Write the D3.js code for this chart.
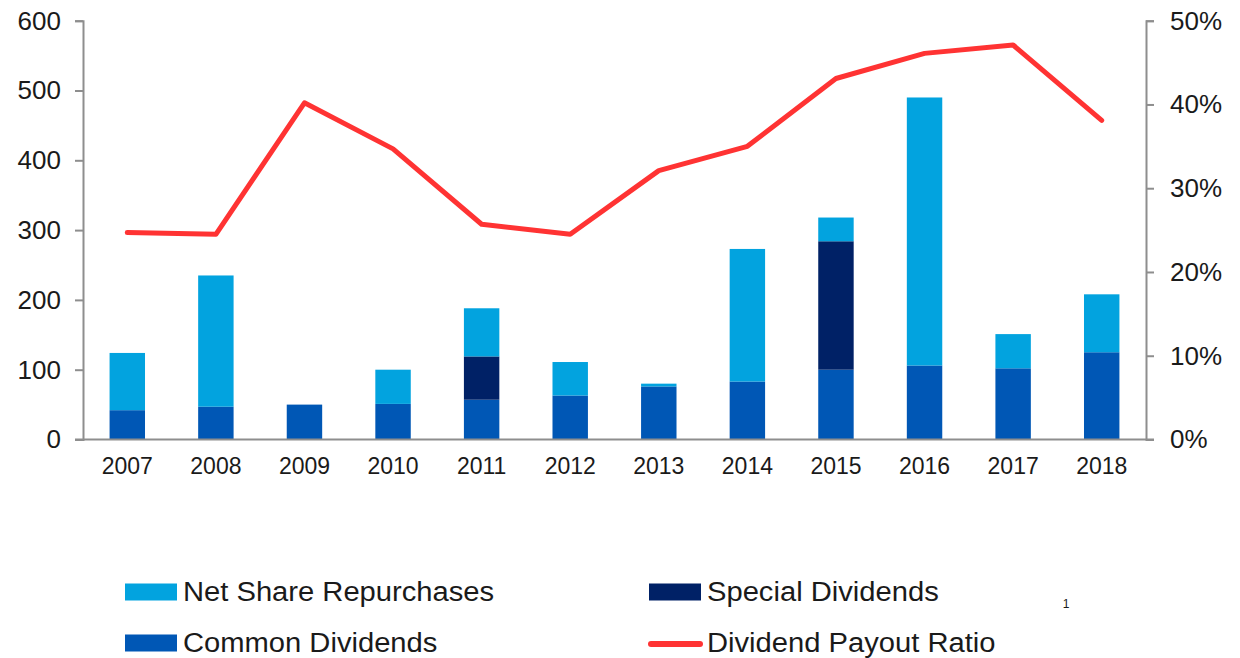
<!DOCTYPE html>
<html>
<head>
<meta charset="utf-8">
<script src="https://cdn.jsdelivr.net/npm/d3@7"></script>
<style>
  html, body { margin: 0; padding: 0; background: #ffffff; }
  svg { display: block; font-family: "Liberation Sans", Arial, sans-serif; }
</style>
</head>
<body>
<svg id="chart" width="1240" height="658"></svg>
<script>
// Capital return by year (left axis) and dividend payout ratio (right axis)
const years = ["2007","2008","2009","2010","2011","2012","2013","2014","2015","2016","2017","2018"];
const commonDividends   = [42, 47, 50, 51, 57, 63, 76, 83, 100, 106, 102, 125];
const specialDividends  = [0, 0, 0, 0, 62, 0, 0, 0, 184, 0, 0, 0];
const netRepurchases    = [82, 188, 0, 49, 69, 48, 4, 190, 34, 384, 49, 83];
const payoutRatio       = [24.7, 24.5, 40.2, 34.7, 25.7, 24.5, 32.1, 35.0, 43.1, 46.1, 47.1, 38.1];
const leftTicks  = [0, 100, 200, 300, 400, 500, 600];
const rightTicks = [0, 10, 20, 30, 40, 50];

const seriesKeys   = ["common", "special", "repurchases"];
const seriesNames  = { common: "Common Dividends", special: "Special Dividends", repurchases: "Net Share Repurchases" };
const seriesColors = { common: "#0057B5", special: "#002166", repurchases: "#02A3DF" };
const lineColor = "#FF3333";
const axisColor = "#8E8E8E";
const textColor = "#1A1A1A";

const rows = years.map((y, i) => ({
  year: y,
  common: commonDividends[i],
  special: specialDividends[i],
  repurchases: netRepurchases[i]
}));

const svg = d3.select("#chart");
const plot = { left: 83, right: 1146, top: 20.7, bottom: 439.5 };

const x = d3.scaleBand().domain(years).range([plot.left, plot.right])
  .paddingInner(0.6).paddingOuter(0.3);
const y = d3.scaleLinear().domain([0, 600]).range([plot.bottom, plot.top]);
const y2 = d3.scaleLinear().domain([0, 50]).range([plot.bottom, plot.top]);

// stacked bars
const stacked = d3.stack().keys(seriesKeys)(rows);
svg.append("g").selectAll("g")
  .data(stacked)
  .join("g")
  .attr("fill", d => seriesColors[d.key])
  .selectAll("rect")
  .data(d => d.filter(s => s[1] - s[0] > 0))
  .join("rect")
  .attr("x", d => x(d.data.year))
  .attr("width", x.bandwidth())
  .attr("y", d => y(d[1]))
  .attr("height", d => y(d[0]) - y(d[1]));

// left axis
const leftAxis = d3.axisLeft(y).tickValues(leftTicks).tickSize(8).tickPadding(14);
const gl = svg.append("g").attr("transform", `translate(${plot.left},0)`).call(leftAxis);
// right axis
const rightAxis = d3.axisRight(y2).tickValues(rightTicks).tickSize(8).tickPadding(16)
  .tickFormat(d => d + "%");
const gr = svg.append("g").attr("transform", `translate(${plot.right},0)`).call(rightAxis);
// bottom axis
const bottomAxis = d3.axisBottom(x).tickSize(0).tickPadding(18);
const gb = svg.append("g").attr("transform", `translate(0,${plot.bottom})`).call(bottomAxis);

[gl, gr, gb].forEach(g => {
  g.select(".domain").attr("stroke", axisColor).attr("stroke-width", 2);
  g.selectAll(".tick line").attr("stroke", axisColor).attr("stroke-width", 2);
  g.selectAll("text").attr("fill", textColor).attr("font-family", "Liberation Sans, Arial, sans-serif");
});
gl.selectAll("text").attr("font-size", 26);
gr.selectAll("text").attr("font-size", 26);
gb.selectAll("text").attr("font-size", 23);
// baseline spans the full width including outer ticks
gb.select(".domain").attr("d", `M${plot.left - 8},0H${plot.right + 8}`);

// payout ratio line
const line = d3.line()
  .x((d, i) => x(years[i]) + x.bandwidth() / 2)
  .y(d => y2(d));
svg.append("path")
  .datum(payoutRatio)
  .attr("fill", "none")
  .attr("stroke", lineColor)
  .attr("stroke-width", 5)
  .attr("stroke-linejoin", "round")
  .attr("stroke-linecap", "round")
  .attr("d", line);

// legend (two columns, two rows)
const legendItems = [
  { name: seriesNames.repurchases, type: "rect", color: seriesColors.repurchases, x: 125, y: 592 },
  { name: seriesNames.special, type: "rect", color: seriesColors.special, x: 649, y: 592 },
  { name: seriesNames.common, type: "rect", color: seriesColors.common, x: 125, y: 643 },
  { name: "Dividend Payout Ratio", type: "line", color: lineColor, x: 649, y: 643 }
];
const lg = svg.append("g").selectAll("g").data(legendItems).join("g")
  .attr("transform", d => `translate(${d.x},${d.y})`);
lg.filter(d => d.type === "rect").append("rect")
  .attr("x", 0).attr("y", -8.5).attr("width", 52).attr("height", 17)
  .attr("fill", d => d.color);
lg.filter(d => d.type === "line").append("line")
  .attr("x1", 2).attr("x2", 51).attr("y1", 1).attr("y2", 1)
  .attr("stroke", d => d.color).attr("stroke-width", 6).attr("stroke-linecap", "round");
lg.append("text")
  .attr("transform", "translate(58,9) scale(1.08,1)")
  .attr("font-size", 27)
  .attr("fill", textColor)
  .text(d => d.name);

// page number
svg.append("text")
  .attr("x", 1066).attr("y", 608)
  .attr("font-size", 12)
  .attr("fill", textColor)
  .attr("text-anchor", "middle")
  .text("1");
</script>
</body>
</html>
